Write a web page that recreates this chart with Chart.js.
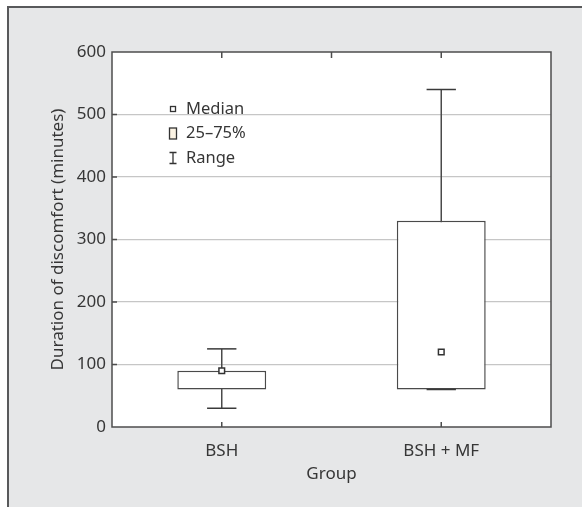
<!DOCTYPE html>
<html lang="en">
<head>
    <meta charset="UTF-8">
    <title>Duration of discomfort by group</title>
    <script src="https://cdn.jsdelivr.net/npm/chart.js"></script>
    <style>
        body {
            margin: 0;
            background-color: #ffffff;
            font-family: "Noto Sans", sans-serif;
        }

        .panel {
            position: absolute;
            left: 7px;
            top: 6px;
            width: 575px;
            height: 501px;
            box-sizing: border-box;
            border-left: 2px solid #58595b;
            border-top: 2px solid #58595b;
            background-color: #e6e7e8;
        }

        #boxChart {
            position: absolute;
            left: 0;
            top: 0;
        }
    </style>
</head>
<body>

    <div class="panel"></div>
    <canvas id="boxChart" width="582" height="507"></canvas>

    <script>
        // Data (minutes)
        const groups = ['BSH', 'BSH + MF'];
        const minVals = [30, 60];
        const q1Vals = [60, 60];
        const medianVals = [90, 120];
        const q3Vals = [90, 330];
        const maxVals = [125, 540];

        // y axis
        const yMin = 0;
        const yMax = 600;
        const yStep = 100;

        const legendItems = ['Median', '25\u201375%', 'Range'];

        const lineColor = '#4a4a4a';
        const textColor = '#363636';
        const fontFamily = '"Noto Sans", sans-serif';

        // white plot background, drawn before the grid
        const plotBackground = {
            id: 'plotBackground',
            beforeDraw(chart) {
                const { ctx, chartArea: a } = chart;
                ctx.save();
                ctx.fillStyle = '#ffffff';
                ctx.fillRect(a.left, a.top, a.right - a.left, a.bottom - a.top);
                ctx.restore();
            }
        };

        // whiskers: stems behind the boxes, caps on top
        const whiskers = {
            id: 'whiskers',
            beforeDatasetsDraw(chart) {
                const { ctx, scales: { x, y } } = chart;
                ctx.save();
                ctx.strokeStyle = lineColor;
                ctx.lineWidth = 1.5;
                groups.forEach((g, i) => {
                    const px = x.getPixelForValue(i);
                    ctx.beginPath();
                    ctx.moveTo(px, y.getPixelForValue(minVals[i]));
                    ctx.lineTo(px, y.getPixelForValue(maxVals[i]));
                    ctx.stroke();
                });
                ctx.restore();
            },
            afterDatasetsDraw(chart) {
                const { ctx, scales: { x, y } } = chart;
                const bars = chart.getDatasetMeta(1).data;
                ctx.save();
                ctx.strokeStyle = '#3a3a3a';
                ctx.lineWidth = 1.5;
                groups.forEach((g, i) => {
                    const px = x.getPixelForValue(i);
                    const half = bars[i].width * 0.165;
                    [minVals[i], maxVals[i]].forEach(v => {
                        const py = y.getPixelForValue(v);
                        ctx.beginPath();
                        ctx.moveTo(px - half, py);
                        ctx.lineTo(px + half, py);
                        ctx.stroke();
                    });
                });
                ctx.restore();
            }
        };

        // plot frame, inward ticks and the in-plot legend
        const frame = {
            id: 'frame',
            afterDatasetsDraw(chart) {
                const { ctx, chartArea: a, scales: { x, y } } = chart;
                const tick = 5;
                ctx.save();
                ctx.strokeStyle = '#4d4d4d';
                ctx.lineWidth = 1.5;
                ctx.strokeRect(a.left, a.top, a.right - a.left, a.bottom - a.top);

                ctx.beginPath();
                for (let v = yMin + yStep; v < yMax; v += yStep) {
                    const py = y.getPixelForValue(v);
                    ctx.moveTo(a.left, py);
                    ctx.lineTo(a.left + tick, py);
                }
                groups.forEach((g, i) => {
                    const px = x.getPixelForValue(i);
                    ctx.moveTo(px, a.bottom);
                    ctx.lineTo(px, a.bottom - tick);
                });
                [0, 0.5, 1].forEach(v => {
                    const px = x.getPixelForValue(v);
                    ctx.moveTo(px, a.top);
                    ctx.lineTo(px, a.top + tick + 1);
                });
                ctx.stroke();

                // legend
                const lx = a.left + 61;
                const ly = a.top + 57;
                const gap = 24.5;
                ctx.lineWidth = 1.3;
                ctx.strokeStyle = '#333333';

                ctx.fillStyle = '#ffffff';
                ctx.fillRect(lx - 2.5, ly - 2.5, 5, 5);
                ctx.strokeRect(lx - 2.5, ly - 2.5, 5, 5);

                ctx.fillStyle = '#fbf3e3';
                ctx.fillRect(lx - 3.5, ly + gap - 5.5, 7, 11);
                ctx.strokeRect(lx - 3.5, ly + gap - 5.5, 7, 11);

                const ry = ly + 2 * gap;
                ctx.beginPath();
                ctx.moveTo(lx, ry - 5.5);
                ctx.lineTo(lx, ry + 5.5);
                ctx.moveTo(lx - 3.5, ry - 5.5);
                ctx.lineTo(lx + 3.5, ry - 5.5);
                ctx.moveTo(lx - 3.5, ry + 5.5);
                ctx.lineTo(lx + 3.5, ry + 5.5);
                ctx.stroke();

                ctx.fillStyle = textColor;
                ctx.font = '16.5px ' + fontFamily;
                ctx.textBaseline = 'middle';
                ctx.textAlign = 'left';
                legendItems.forEach((t, i) => {
                    ctx.fillText(t, lx + 13, ly + i * gap);
                });
                ctx.restore();
            }
        };

        const chart = new Chart(document.getElementById('boxChart'), {
            type: 'bar',
            data: {
                labels: groups,
                datasets: [
                    {
                        type: 'line',
                        label: 'Median',
                        data: medianVals,
                        showLine: false,
                        pointStyle: 'rect',
                        pointRadius: 4,
                        pointBorderWidth: 1.5,
                        pointBackgroundColor: '#ffffff',
                        pointBorderColor: '#333333',
                        order: 0
                    },
                    {
                        type: 'bar',
                        label: '25\u201375%',
                        data: groups.map((g, i) => [q1Vals[i], q3Vals[i]]),
                        backgroundColor: '#ffffff',
                        borderColor: lineColor,
                        borderWidth: 1.5,
                        borderSkipped: false,
                        barPercentage: 0.405,
                        categoryPercentage: 1,
                        order: 1
                    }
                ]
            },
            options: {
                responsive: false,
                animation: false,
                layout: { padding: { top: 52, right: 31, left: 0, bottom: 0 } },
                plugins: {
                    legend: { display: false },
                    tooltip: { enabled: false }
                },
                scales: {
                    x: {
                        grid: { display: false },
                        border: { display: false },
                        ticks: {
                            color: textColor,
                            padding: 6,
                            font: { family: fontFamily, size: 17 }
                        },
                        title: {
                            display: true,
                            text: 'Group',
                            color: textColor,
                            padding: { top: 4, bottom: 23 },
                            font: { family: fontFamily, size: 17 }
                        },
                        afterFit(scale) { scale.height = 80; }
                    },
                    y: {
                        min: yMin,
                        max: yMax,
                        grid: {
                            drawTicks: false,
                            lineWidth: 1.2,
                            color: c => (c.tick.value === yMin || c.tick.value === yMax) ? 'rgba(0,0,0,0)' : '#c6c6c6'
                        },
                        border: { display: false },
                        ticks: {
                            stepSize: yStep,
                            color: textColor,
                            padding: 6,
                            font: { family: fontFamily, size: 17 }
                        },
                        title: {
                            display: true,
                            text: 'Duration of discomfort (minutes)',
                            color: textColor,
                            padding: { top: 48, bottom: 0 },
                            font: { family: fontFamily, size: 17 }
                        },
                        afterFit(scale) { scale.width = 112; }
                    }
                }
            },
            plugins: [plotBackground, whiskers, frame]
        });
    </script>

</body>
</html>
